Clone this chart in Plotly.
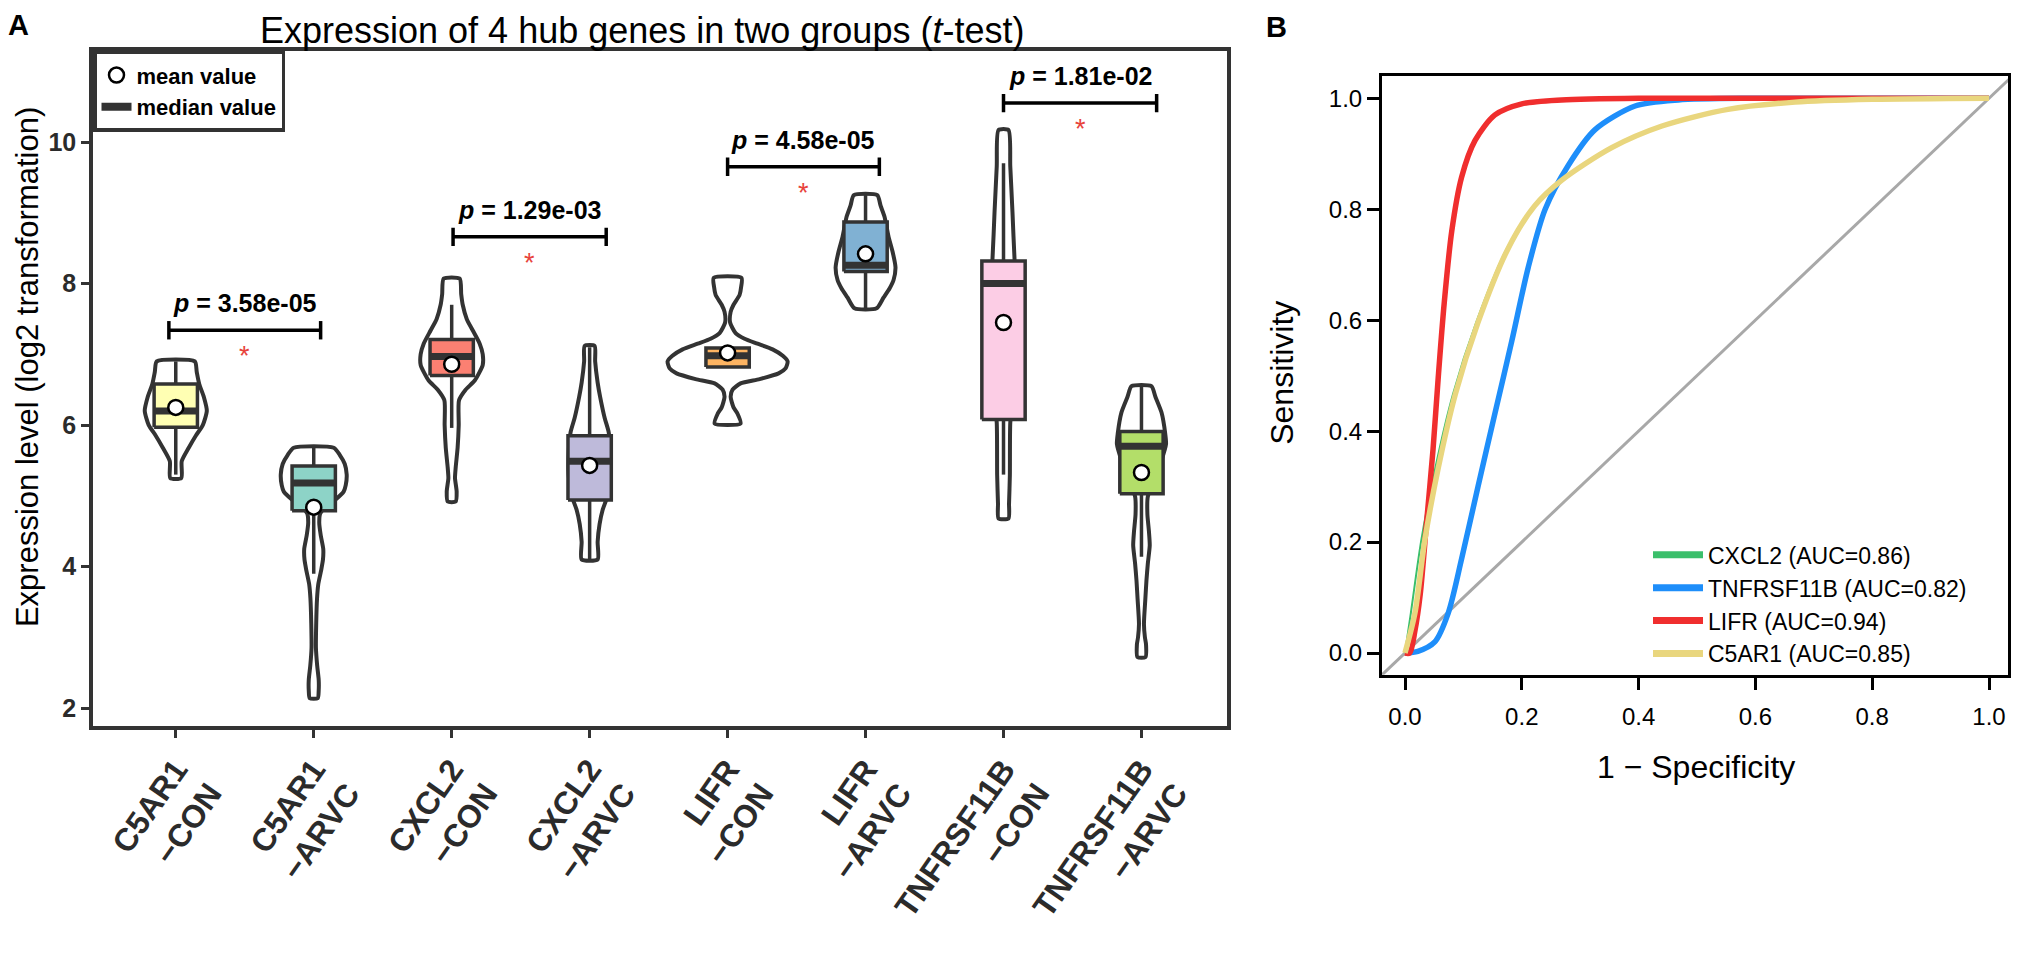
import plotly.graph_objects as go

FONT = "Liberation Sans, Arial, sans-serif"
DARK = "#333333"

# page is drawn inside the browser's default 8px body margin
W, H, OFF = 2003, 939, 8


def px(x):
    return (x - OFF) / W


def py(y):
    return 1 - (y - OFF) / H


# ---------------- Panel A: expression data ----------------
groups = ["C5AR1<br>−CON", "C5AR1<br>−ARVC", "CXCL2<br>−CON", "CXCL2<br>−ARVC",
          "LIFR<br>−CON", "LIFR<br>−ARVC", "TNFRSF11B<br>−CON", "TNFRSF11B<br>−ARVC"]
box_colors = ["#FFFFB3", "#8DD3C7", "#FB8072", "#BEBADA",
              "#FDB462", "#80B1D3", "#FCCDE5", "#B3DE69"]

q1 = [5.97, 4.79, 6.70, 4.94, 6.82, 8.17, 6.08, 5.03]
median = [6.20, 5.18, 6.97, 5.49, 6.98, 8.26, 8.00, 5.70]
q3 = [6.58, 5.42, 7.21, 5.85, 7.09, 8.87, 8.32, 5.91]
lower = [5.30, 3.90, 5.96, 4.10, 6.82, 7.65, 5.30, 4.14]
upper = [6.90, 5.68, 7.70, 7.10, 7.09, 9.25, 9.70, 6.55]
mean = [6.25, 4.84, 6.86, 5.43, 7.02, 8.42, 7.45, 5.33]

# violin outlines: expression levels (top -> bottom) and half widths (category units)
vio_levels = [
    [6.90, 6.75, 6.58, 6.40, 6.20, 6.00, 5.85, 5.68, 5.49, 5.25],
    [5.68, 5.58, 5.45, 5.30, 5.15, 5.06, 4.95, 4.85, 4.75, 4.62, 4.44, 4.25, 4.10,
     3.95, 3.75, 3.55, 3.20, 2.85, 2.60, 2.40, 2.25, 2.14],
    [8.07, 7.85, 7.70, 7.50, 7.34, 7.15, 7.00, 6.85, 6.63, 6.50, 6.35, 6.00, 5.68,
     5.40, 5.25, 5.06, 4.92],
    [7.12, 6.90, 6.60, 6.40, 6.10, 5.90, 5.60, 5.30, 5.00, 4.80, 4.60, 4.35, 4.10],
    [8.08, 7.95, 7.84, 7.70, 7.60, 7.45, 7.30, 7.22, 7.15, 7.07, 6.98, 6.90, 6.80,
     6.73, 6.65, 6.59, 6.50, 6.40, 6.25, 6.16, 6.02],
    [9.25, 9.10, 8.94, 8.66, 8.45, 8.23, 8.05, 7.93, 7.80, 7.65],
    [10.17, 9.66, 9.01, 8.34, 8.00, 7.50, 7.00, 6.50, 6.03, 5.29, 4.89, 4.68],
    [6.55, 6.40, 6.18, 5.88, 5.73, 5.50, 5.20, 4.99, 4.74, 4.50, 4.30, 4.04, 3.80,
     3.54, 3.19, 3.00, 2.90, 2.72],
]
vio_halfwidth = [
    [0.138, 0.152, 0.170, 0.203, 0.225, 0.196, 0.145, 0.094, 0.043, 0.040],
    [0.145, 0.188, 0.225, 0.239, 0.232, 0.217, 0.159, 0.087, 0.047, 0.040, 0.051,
     0.069, 0.067, 0.054, 0.033, 0.024, 0.018, 0.016, 0.025, 0.036, 0.036, 0.029],
    [0.058, 0.069, 0.080, 0.109, 0.152, 0.203, 0.225, 0.225, 0.167, 0.101, 0.053,
     0.051, 0.043, 0.029, 0.024, 0.036, 0.029],
    [0.036, 0.040, 0.058, 0.076, 0.109, 0.138, 0.152, 0.152, 0.130, 0.094, 0.072,
     0.058, 0.058],
    [0.101, 0.098, 0.087, 0.043, 0.022, 0.018, 0.058, 0.123, 0.217, 0.326, 0.400,
     0.435, 0.420, 0.370, 0.232, 0.094, 0.036, 0.022, 0.043, 0.072, 0.094],
    [0.085, 0.109, 0.138, 0.167, 0.196, 0.217, 0.203, 0.174, 0.130, 0.080],
    [0.036, 0.049, 0.065, 0.080, 0.094, 0.094, 0.087, 0.072, 0.049, 0.046, 0.040, 0.036],
    [0.072, 0.101, 0.145, 0.172, 0.178, 0.145, 0.087, 0.046, 0.043, 0.054, 0.060,
     0.046, 0.036, 0.028, 0.018, 0.025, 0.033, 0.029],
]

# t-test brackets: level and ends relative to the first group of each pair
p_labels = ["3.58e-05", "1.29e-03", "4.58e-05", "1.81e-02"]
p_level = [7.34, 8.66, 9.65, 10.55]
p_left = [-0.05, 0.01, 0.0, 0.0]
p_right = [1.05, 1.12, 1.10, 1.11]

# ---------------- Panel B: ROC curves ----------------
roc_names = ["CXCL2 (AUC=0.86)", "TNFRSF11B (AUC=0.82)", "LIFR (AUC=0.94)", "C5AR1 (AUC=0.85)"]
roc_colors = ["#3BBF6B", "#1E8EFA", "#F02E2E", "#E9D67E"]
roc_widths = [2, 5.5, 5.5, 5.5]
roc_fpr = [
    [0, 0.010, 0.028, 0.052, 0.082, 0.122, 0.174, 0.222, 0.268, 0.354, 0.44, 0.553, 0.668, 0.8, 1.0],
    [0, 0.022, 0.051, 0.074, 0.097, 0.125, 0.154, 0.183, 0.211, 0.24, 0.279, 0.325, 0.394, 0.468, 0.6, 0.8, 1.0],
    [0, 0.008, 0.017, 0.026, 0.037, 0.048, 0.057, 0.067, 0.080, 0.097, 0.12, 0.154, 0.2, 0.268, 0.4, 0.6, 1.0],
    [0, 0.017, 0.034, 0.057, 0.086, 0.125, 0.176, 0.222, 0.268, 0.354, 0.44, 0.553, 0.668, 0.8, 1.0],
]
roc_tpr = [
    [0, 0.072, 0.204, 0.334, 0.466, 0.596, 0.728, 0.806, 0.852, 0.911, 0.95, 0.98, 0.993, 0.998, 1.0],
    [0, 0.003, 0.02, 0.072, 0.17, 0.30, 0.432, 0.563, 0.695, 0.80, 0.878, 0.943, 0.986, 0.997, 1.0, 1.0, 1.0],
    [0, 0.0, 0.04, 0.105, 0.236, 0.367, 0.498, 0.629, 0.76, 0.858, 0.924, 0.97, 0.99, 0.997, 1.0, 1.0, 1.0],
    [0, 0.072, 0.204, 0.334, 0.466, 0.596, 0.728, 0.806, 0.852, 0.911, 0.95, 0.98, 0.993, 0.998, 1.0],
]
diag = [-0.1, 1.1]

fig = go.Figure()
pos = list(range(len(groups)))
BOX_HW = 0.157

# ── violins ──────────────────────────────────────────────────────────────
for c, lv, hw in zip(pos, vio_levels, vio_halfwidth):
    xs = [c + h for h in hw] + [c - h for h in hw[::-1]] + [c + hw[0]]
    ys = lv + lv[::-1] + [lv[0]]
    fig.add_trace(go.Scatter(
        x=xs, y=ys, mode="lines", fill="toself", fillcolor="white",
        line=dict(color=DARK, width=4, shape="spline", smoothing=0.6),
        showlegend=False, hoverinfo="skip", xaxis="x", yaxis="y",
    ))

# ── whiskers ─────────────────────────────────────────────────────────────
wx, wy = [], []
for i in pos:
    wx += [i, i, None, i, i, None]
    wy += [q3[i], upper[i], None, q1[i], lower[i], None]
fig.add_trace(go.Scatter(
    x=wx, y=wy, mode="lines", line=dict(color=DARK, width=3.5),
    showlegend=False, hoverinfo="skip", xaxis="x", yaxis="y",
))

# ── boxes ────────────────────────────────────────────────────────────────
for i in pos:
    fig.add_trace(go.Scatter(
        x=[i - BOX_HW, i + BOX_HW, i + BOX_HW, i - BOX_HW, i - BOX_HW],
        y=[q1[i], q1[i], q3[i], q3[i], q1[i]],
        mode="lines", fill="toself", fillcolor=box_colors[i],
        line=dict(color=DARK, width=3.5),
        showlegend=False, hoverinfo="skip", xaxis="x", yaxis="y",
    ))

# thick median bands
mx, my = [], []
for i in pos:
    mx += [i - BOX_HW, i + BOX_HW, None]
    my += [median[i], median[i], None]
fig.add_trace(go.Scatter(
    x=mx, y=my, mode="lines", line=dict(color=DARK, width=7),
    showlegend=False, hoverinfo="skip", xaxis="x", yaxis="y",
))

# mean points
fig.add_trace(go.Scatter(
    x=pos, y=mean, mode="markers", name="mean value",
    marker=dict(symbol="circle", size=15, color="white", line=dict(color="black", width=2.5)),
    legend="legend2", xaxis="x", yaxis="y",
))
fig.add_trace(go.Scatter(
    x=[None], y=[None], mode="lines", name="median value",
    line=dict(color=DARK, width=8), legend="legend2", xaxis="x", yaxis="y",
))

# significance brackets
bx, by = [], []
for k, lvl in enumerate(p_level):
    x0 = 2 * k + p_left[k]
    x1 = 2 * k + p_right[k]
    bx += [x0, x0, None, x0, x1, None, x1, x1, None]
    by += [lvl - 0.13, lvl + 0.13, None, lvl, lvl, None, lvl - 0.13, lvl + 0.13, None]
    mid = (x0 + x1) / 2
    fig.add_annotation(x=mid, y=lvl, xref="x", yref="y", yshift=27, showarrow=False,
                       xanchor="center", yanchor="middle",
                       text=f"<i>p</i> = {p_labels[k]}",
                       font=dict(family=FONT, size=25, color="black", weight="bold"))
    fig.add_annotation(x=mid, y=lvl, xref="x", yref="y", yshift=-26, showarrow=False,
                       xanchor="center", yanchor="middle",
                       text="*", font=dict(family=FONT, size=27, color="#E8433B"))
fig.add_trace(go.Scatter(
    x=bx, y=by, mode="lines", line=dict(color="black", width=3.5),
    showlegend=False, hoverinfo="skip", xaxis="x", yaxis="y",
))

# ── ROC curves ───────────────────────────────────────────────────────────
fig.add_trace(go.Scatter(
    x=diag, y=diag, mode="lines", line=dict(color="#A8A8A8", width=3),
    showlegend=False, hoverinfo="skip", xaxis="x2", yaxis="y2",
))
for name, col, w, fx, ty in zip(roc_names, roc_colors, roc_widths, roc_fpr, roc_tpr):
    fig.add_trace(go.Scatter(
        x=fx, y=ty, mode="lines", name=name,
        line=dict(color=col, width=w, shape="spline", smoothing=0.8),
        showlegend=False, xaxis="x2", yaxis="y2",
    ))
for name, col in zip(roc_names, roc_colors):
    fig.add_trace(go.Scatter(
        x=[None], y=[None], mode="lines", name=name,
        line=dict(color=col, width=7), legend="legend", xaxis="x2", yaxis="y2",
    ))

axis_a = dict(showline=True, mirror=True, linecolor=DARK, linewidth=3.5,
              ticks="outside", ticklen=8, tickwidth=3, tickcolor=DARK,
              showgrid=False, zeroline=False)
axis_b = dict(showline=True, mirror=True, linecolor="black", linewidth=3,
              ticks="outside", ticklen=12, tickwidth=2.5, tickcolor="black",
              showgrid=False, zeroline=False,
              tickfont=dict(family=FONT, size=24, color="black"))

# ROC axes: 0 -> 1405 px, 1 -> 1989 px horizontally; 1 -> 103 px, 0 -> 687 px vertically
b_x_left, b_x_right = (1382 - 1405) / 584, (2008 - 1405) / 584
b_y_bottom, b_y_top = (687 - 710) / 584, (687 - 80) / 584

fig.update_layout(
    width=W, height=H,
    margin=dict(l=0, r=0, t=0, b=0),
    plot_bgcolor="white", paper_bgcolor="white",
    font=dict(family=FONT),
    xaxis=dict(axis_a, domain=[px(93), px(1227)], range=[-0.6, 7.62],
               tickmode="array", tickvals=pos, ticktext=groups, tickangle=-55,
               tickfont=dict(family=FONT, size=32, color="#2B2B2B", weight="bold")),
    yaxis=dict(axis_a, domain=[py(764), py(53)], range=[1.745, 11.29],
               tickvals=[2, 4, 6, 8, 10],
               tickfont=dict(family=FONT, size=25, color="#2B2B2B", weight="bold")),
    xaxis2=dict(axis_b, domain=[px(1382), px(2008)], range=[b_x_left, b_x_right],
                tickvals=[0, 0.2, 0.4, 0.6, 0.8, 1.0], tickformat=".1f",
                ticklabelstandoff=6, anchor="y2"),
    yaxis2=dict(axis_b, domain=[py(710), py(80)], range=[b_y_bottom, b_y_top],
                tickvals=[0, 0.2, 0.4, 0.6, 0.8, 1.0], tickformat=".1f", anchor="x2"),
    legend=dict(x=px(1648), y=py(561), xanchor="left", yanchor="top",
                bgcolor="rgba(0,0,0,0)", borderwidth=0, itemwidth=50,
                font=dict(family=FONT, size=23, color="black")),
    legend2=dict(x=px(93), y=py(53), xanchor="left", yanchor="top",
                 bgcolor="white", bordercolor=DARK, borderwidth=3.5,
                 font=dict(family=FONT, size=22, color="black", weight="bold")),
)

# titles and panel letters
texts = [
    ("Expression of 4 hub genes in two groups (<i>t</i>-test)", 642, 32, 0, 36, "normal"),
    ("Expression level (log2 transformation)", 27, 386, -90, 31, "normal"),
    ("Sensitivity", 1282, 392, -90, 32, "normal"),
    ("1 − Specificity", 1696, 807, 0, 32, "normal"),
    ("A", 18, 26, 0, 29, "bold"),
    ("B", 1276, 28, 0, 29, "bold"),
]
for txt, tx, ty, ang, size, wt in texts:
    fig.add_annotation(x=px(tx), y=py(ty), xref="paper", yref="paper", showarrow=False,
                       xanchor="center", yanchor="middle", textangle=ang, text=txt,
                       font=dict(family=FONT, size=size, color="black", weight=wt))

fig.write_html("out.html")
